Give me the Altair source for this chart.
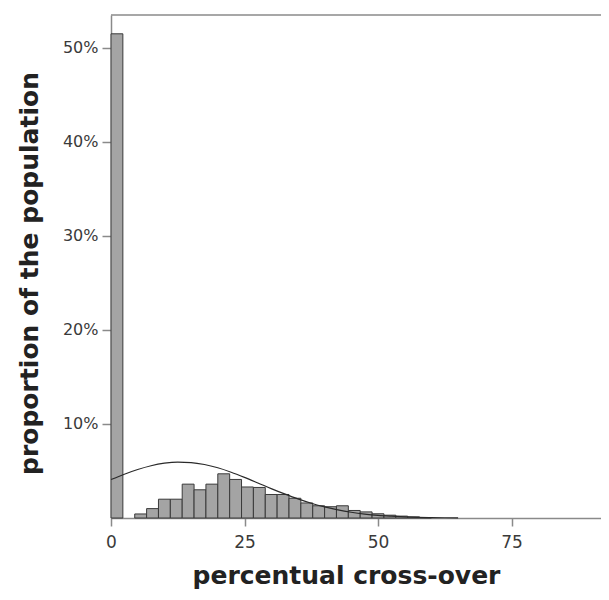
import altair as alt
import pandas as pd

# Histogram bins (bin index, width 100/45 percent) and share of population (%)
bin_index = list(range(27))
share = [51.5, 0.0, 0.43, 1.0, 2.0, 2.0, 3.6, 3.0, 3.6, 4.7, 4.1, 3.3, 3.25,
         2.5, 2.5, 2.1, 1.6, 1.3, 1.2, 1.3, 0.8, 0.65, 0.45, 0.3, 0.2, 0.12, 0.05]
bin_width = 100 / 45

# Fitted curve
curve_x = [0, 2.5, 5, 7.5, 10, 12.5, 15, 17.5, 20, 22.5, 25, 27.5, 30, 32.5,
           35, 37.5, 40, 42.5, 45, 47.5, 50, 52.5, 55, 57.5, 60, 62.5, 65]
curve_y = [4.09, 4.66, 5.16, 5.56, 5.83, 5.95, 5.90, 5.69, 5.34, 4.87, 4.32,
           3.73, 3.13, 2.56, 2.03, 1.57, 1.18, 0.86, 0.61, 0.42, 0.28, 0.19,
           0.12, 0.07, 0.044, 0.025, 0.014]

x_ticks = [0, 25, 50, 75]
y_ticks = [10, 20, 30, 40, 50]

bars_df = pd.DataFrame({"idx": bin_index, "share": share})
bars_df["start"] = bars_df["idx"] * bin_width
bars_df["end"] = (bars_df["idx"] + 1) * bin_width
bars_df = bars_df[bars_df["share"] > 0]

curve_df = pd.DataFrame({"x": curve_x, "y": curve_y})

xscale = alt.Scale(domain=[0, 91.76], nice=False, zero=False)
yscale = alt.Scale(domain=[0, 53.5], nice=False)

x_axis = alt.Axis(
    values=x_ticks, title="percentual cross-over", grid=False, labelFlush=False,
    tickSize=8, labelPadding=8, labelFontSize=17, labelColor="#3a3a3a",
    labelFont="DejaVu Sans", titleFont="DejaVu Sans", titleFontSize=25,
    titleFontWeight="bold", titleColor="#222", titleX=235, titleY=65,
    titleBaseline="alphabetic", titleAnchor="start", titleAlign="center",
)
y_axis = alt.Axis(
    values=y_ticks, title="proportion of the population", grid=False,
    labelExpr="datum.value + '%'", tickSize=9, labelPadding=4,
    labelFontSize=16, labelColor="#3a3a3a", labelFont="DejaVu Sans",
    titleFont="DejaVu Sans", titleFontSize=25, titleFontWeight="bold",
    titleColor="#222", titleAngle=-90, titleX=-74, titleY=258,
    titleBaseline="alphabetic", titleAlign="center",
)

bars = alt.Chart(bars_df).mark_rect(
    fill="#a4a4a4", stroke="#3a3a3a", strokeWidth=1, opacity=1
).encode(
    x=alt.X("start:Q", scale=xscale, axis=x_axis),
    x2="end:Q",
    y=alt.Y("share:Q", scale=yscale, axis=y_axis),
    y2=alt.datum(0),
)

curve = alt.Chart(curve_df).mark_line(
    color="#2a2a2a", strokeWidth=1.2, interpolate="monotone"
).encode(
    x=alt.X("x:Q", scale=xscale),
    y=alt.Y("y:Q", scale=yscale),
)

top_rule = alt.Chart(pd.DataFrame({"a": [0]})).mark_rule(
    color="#8a8a8a", strokeWidth=1.5
).encode(y=alt.value(0))

chart = alt.layer(bars, curve, top_rule).properties(
    width=490, height=503,
    autosize=alt.AutoSizeParams(type="none"),
    padding={"left": 103, "top": 7, "right": 0, "bottom": 74},
).configure_view(stroke=None).configure_axis(
    domainColor="#8a8a8a", domainWidth=1.5, tickColor="#8a8a8a", tickWidth=1.5,
)

chart.save("out.html", embed_options={"renderer": "svg", "actions": False})
